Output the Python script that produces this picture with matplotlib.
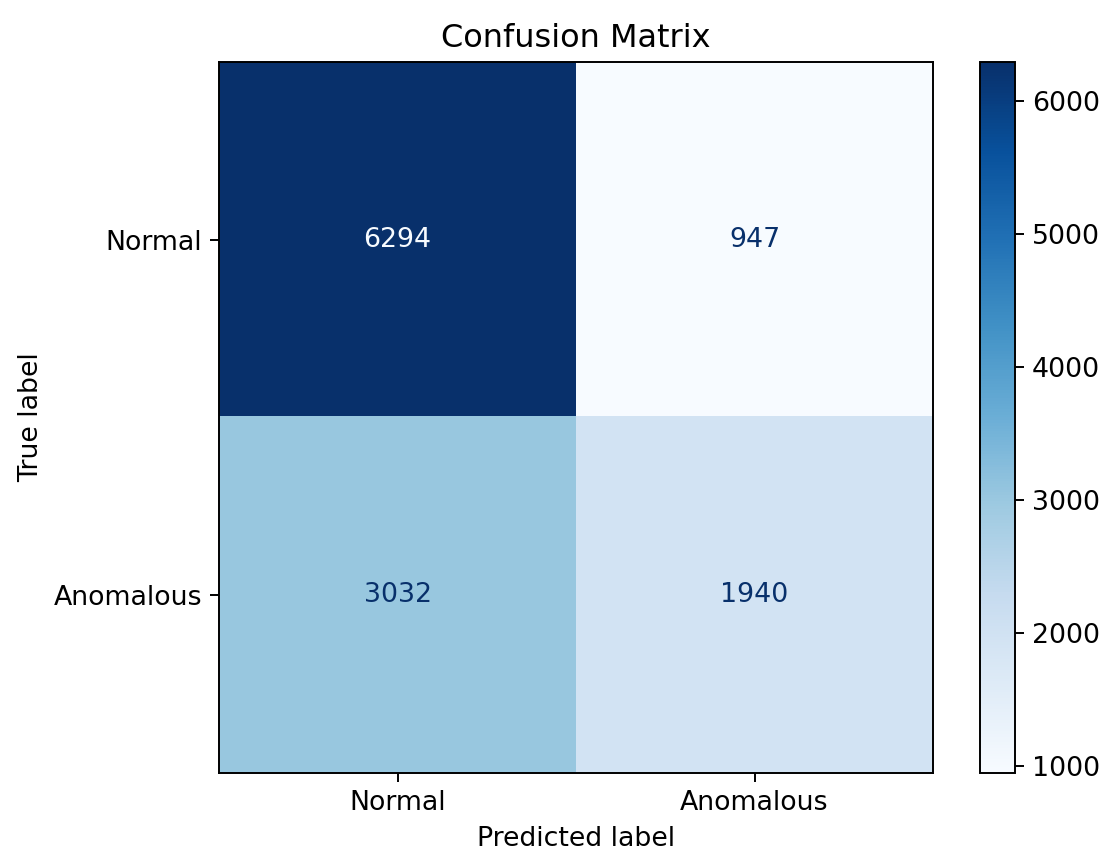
import matplotlib
matplotlib.use("Agg")
from matplotlib import pyplot as plt
import numpy as np

labels = ["Normal", "Anomalous"]
cm = np.array([[6294, 947],
               [3032, 1940]])

plt.rcParams["font.size"] = 11
plt.rcParams["axes.titlesize"] = 13.2

dpi = 175
fig = plt.figure(figsize=(1105 / dpi, 855 / dpi), dpi=dpi)
ax = fig.add_axes([219 / 1105, 1 - 773 / 855, 714 / 1105, 711 / 855])
cax = fig.add_axes([980 / 1105, 1 - 773 / 855, 35 / 1105, 711 / 855])

cmap = plt.get_cmap("Blues")
im = ax.imshow(cm, cmap=cmap, interpolation="nearest", aspect="auto")
fig.colorbar(im, cax=cax)

thresh = (cm.max() + cm.min()) / 2.0
for i in range(cm.shape[0]):
    for j in range(cm.shape[1]):
        color = cmap(0.0) if cm[i, j] > thresh else cmap(1.0)
        ax.text(j, i, f"{cm[i, j]}", ha="center", va="center", color=color)

ax.set_xticks(range(len(labels)), labels)
ax.set_yticks(range(len(labels)), labels)
ax.set_xlabel("Predicted label")
ax.set_ylabel("True label")
ax.set_title("Confusion Matrix")
ax.set_ylim(len(labels) - 0.5, -0.5)

fig.savefig("out.png", dpi=dpi)
plt.close(fig)
